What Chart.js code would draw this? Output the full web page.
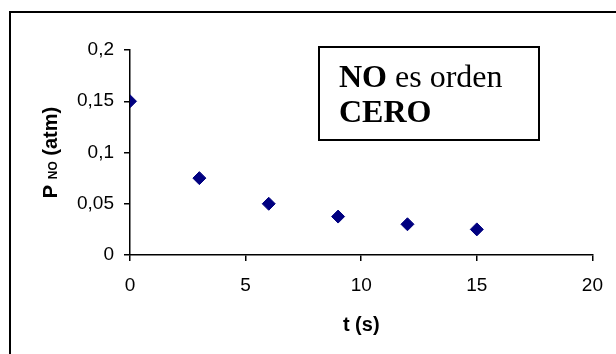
<!DOCTYPE html>
<html>
<head>
<meta charset="utf-8">
<script src="https://cdn.jsdelivr.net/npm/chart.js@4.4.1/dist/chart.umd.min.js"></script>
<style>
  body { margin: 0; background: #fff; }
  canvas { display: block; }
</style>
</head>
<body>
<canvas id="grafico" width="616" height="354"></canvas>
<script>
'use strict'

const tiempos = [0, 3, 6, 9, 12, 15];
const presiones = [0.15, 0.075, 0.05, 0.0375, 0.03, 0.025];
const ticksX = [0, 5, 10, 15, 20];
const ticksY = [0, 0.05, 0.1, 0.15, 0.2];

const tituloX = 't (s)';
const tituloY = ['P', 'NO', ' (atm)'];
const nota = [['NO', ' es orden'], ['CERO', '']];

const fuenteEjes = '"Liberation Sans", Arial, sans-serif';
const fuenteNota = '"Liberation Serif", "Times New Roman", serif';

const coma = v => String(Math.round(v * 1000) / 1000).replace('.', ',');

const extras = {
  id: 'extras',
  afterDraw(chart) {
    const ctx = chart.ctx,
          area = chart.chartArea;
    ctx.save();

    // marco exterior
    ctx.strokeStyle = '#000';
    ctx.lineWidth = 2;
    ctx.strokeRect(10, 12, 700, 400);

    // cuadro de texto
    ctx.strokeRect(319, 47, 220, 93);
    ctx.fillStyle = '#000';
    ctx.textBaseline = 'alphabetic';
    ctx.textAlign = 'left';
    nota.forEach((linea, i) => {
      const y = 87 + i * 35;
      ctx.font = 'bold 32px ' + fuenteNota;
      ctx.fillText(linea[0], 339, y);
      const w = ctx.measureText(linea[0]).width;
      ctx.font = '32px ' + fuenteNota;
      ctx.fillText(linea[1], 339 + w, y);
    });

    // titulo eje x
    ctx.font = 'bold 20px ' + fuenteEjes;
    ctx.textAlign = 'center';
    ctx.textBaseline = 'middle';
    ctx.fillText(tituloX, (area.left + area.right) / 2, 325);

    // titulo eje y con subindice
    ctx.translate(51, (area.top + area.bottom) / 2);
    ctx.rotate(-Math.PI / 2);
    ctx.textAlign = 'left';
    ctx.textBaseline = 'middle';
    const fGrande = 'bold 20px ' + fuenteEjes,
          fChica = 'bold 12px ' + fuenteEjes;
    ctx.font = fGrande;
    const w1 = ctx.measureText(tituloY[0] + ' ').width;
    const w3 = ctx.measureText(tituloY[2]).width;
    ctx.font = fChica;
    const w2 = ctx.measureText(tituloY[1]).width;
    let x = -(w1 + w2 + w3) / 2;
    ctx.font = fGrande;
    ctx.fillText(tituloY[0] + ' ', x, 0);
    x += w1;
    ctx.font = fChica;
    ctx.fillText(tituloY[1], x, 3);
    x += w2;
    ctx.font = fGrande;
    ctx.fillText(tituloY[2], x, 0);

    ctx.restore();
  }
};

new Chart(document.getElementById('grafico'), {
  type: 'scatter',
  data: {
    datasets: [{
      data: tiempos.map((t, i) => ({ x: t, y: presiones[i] })),
      pointStyle: 'rectRot',
      pointRadius: 6.5,
      pointHoverRadius: 6.5,
      backgroundColor: '#000080',
      borderColor: '#000080',
      borderWidth: 1
    }]
  },
  plugins: [extras],
  options: {
    responsive: false,
    animation: false,
    events: [],
    layout: {
      padding: { top: 50, right: 19, left: 0, bottom: 0 }
    },
    plugins: {
      legend: false,
      tooltip: { enabled: false }
    },
    scales: {
      x: {
        type: 'linear',
        min: 0,
        max: 20,
        afterBuildTicks: scale => { scale.ticks = ticksX.map(v => ({ value: v })); },
        afterFit: scale => { scale.height = 99; },
        ticks: {
          padding: 13,
          color: '#000',
          font: { family: fuenteEjes, size: 19 },
          maxRotation: 0
        },
        grid: {
          drawOnChartArea: false,
          drawTicks: true,
          tickLength: 6,
          lineWidth: 1.5,
          color: '#000'
        },
        border: { color: '#000', width: 1.5 }
      },
      y: {
        min: 0,
        max: 0.2,
        afterBuildTicks: scale => { scale.ticks = ticksY.map(v => ({ value: v })); },
        afterFit: scale => { scale.width = 130; },
        ticks: {
          padding: 10,
          color: '#000',
          font: { family: fuenteEjes, size: 19 },
          callback: v => coma(v)
        },
        grid: {
          drawOnChartArea: false,
          drawTicks: true,
          tickLength: 6,
          lineWidth: 1.5,
          color: '#000'
        },
        border: { color: '#000', width: 1.5 }
      }
    }
  }
});
</script>
</body>
</html>
